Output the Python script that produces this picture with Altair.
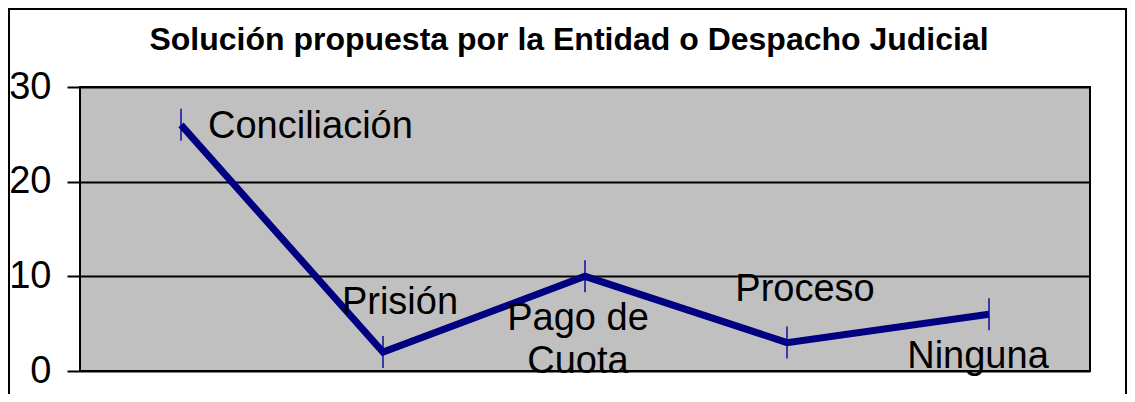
import altair as alt
import pandas as pd

categories = ["Conciliación", "Prisión", "Pago de\nCuota", "Proceso", "Ninguna"]
values = [26, 2, 10, 3, 6]
y_ticks = [0, 10, 20, 30]
title_text = "Solución propuesta por la Entidad o Despacho Judicial"

df = pd.DataFrame({"cat": categories, "val": values})

FONT = "Liberation Sans"
W, H = 1010, 284
LBL = 38

x_enc = alt.X("cat:N", sort=None, scale=alt.Scale(type="point", padding=0.5), axis=None)
y_enc = alt.Y("val:Q", scale=alt.Scale(domain=[0, 30], nice=False),
              axis=alt.Axis(values=y_ticks, title=None, domain=False, grid=True,
                            gridColor="black", gridWidth=2, tickColor="black",
                            tickWidth=2, tickSize=13, labelFontSize=LBL, labelFont=FONT,
                            labelColor="black", labelPadding=16))

base = alt.Chart(df).encode(x=x_enc, y=y_enc)

line = base.mark_line(color="#000080", strokeWidth=7)
ticks = base.mark_tick(orient="vertical", size=32, thickness=2, color="#0000A0")

def label(name, align, dx, dy):
    return base.transform_filter(alt.datum.cat == name).mark_text(
        align=align, baseline="alphabetic", dx=dx, dy=dy, fontSize=LBL, font=FONT,
        color="black", lineBreak="\n", lineHeight=43
    ).encode(text="cat:N")

labels = [
    label("Conciliación", "left", 27, 13),
    label("Prisión", "center", 17, -38),
    label("Pago de\nCuota", "center", -7, 54),
    label("Proceso", "center", 18, -42),
    label("Ninguna", "center", -11, 54),
]

frame = alt.Chart(alt.Data(values=[{"a": 1}])).mark_rect(
    filled=False, stroke="black", strokeWidth=2
).encode(x=alt.value(-71), x2=alt.value(1046), y=alt.value(-78), y2=alt.value(420))

chart = alt.layer(line, ticks, *labels, frame).properties(
    width=W, height=H,
    title=alt.TitleParams(title_text, font=FONT, fontSize=32, fontWeight="bold",
                          color="black", anchor="middle", dx=-16, offset=-74,
                          baseline="alphabetic"),
    autosize=alt.AutoSizeParams(type="none"),
    padding={"left": 72, "top": 79, "right": 37, "bottom": 23},
).configure_view(fill="#C0C0C0", stroke="black", strokeWidth=2)

chart.save("out.html", embed_options={"renderer": "svg", "actions": False})
